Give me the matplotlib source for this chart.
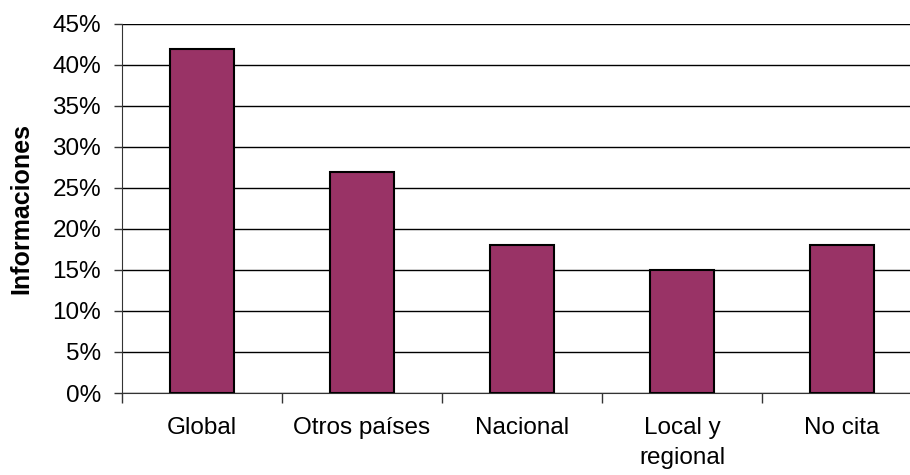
import matplotlib
matplotlib.use("Agg")
import matplotlib.pyplot as plt
from matplotlib.ticker import FuncFormatter, FixedLocator, MultipleLocator

plt.rcParams['font.family'] = ['Liberation Sans', 'DejaVu Sans']

# data
categories = ['Global', 'Otros países', 'Nacional', 'Local y\nregional', 'No cita']
values = [42, 27, 18, 15, 18]

fig = plt.figure(figsize=(9.1, 4.75), dpi=100)
# plot area runs past the right edge of the picture, as in the reference
ax = fig.add_axes([122 / 910, 1 - 393 / 475, 800 / 910, 369 / 475])

x = list(range(len(categories)))
ax.bar(x, values, width=0.4, color='#993366', edgecolor='black', linewidth=1.5, zorder=3)

ax.set_xlim(-0.5, len(categories) - 0.5)
ax.set_ylim(0, 45)
ax.yaxis.set_major_locator(MultipleLocator(5))
ax.yaxis.set_major_formatter(FuncFormatter(lambda v, p: f'{int(v)}%'))
ax.grid(axis='y', color='black', linewidth=1, zorder=0)
ax.axhline(45, color='#888888', linewidth=1.5, zorder=1)

# category labels in the middle, ticks on the boundaries
ax.set_xticks(x)
ax.set_xticklabels(categories, fontsize=17.5, linespacing=1.5)
ax.tick_params(axis='x', which='major', length=0, pad=17)
ax.xaxis.set_minor_locator(FixedLocator([i - 0.5 for i in range(len(categories) + 1)]))
ax.tick_params(axis='x', which='minor', length=7, width=1, color='#333333')
ax.tick_params(axis='y', length=6, width=1, labelsize=17.5, pad=9, color='#333333')

for s in ['top', 'right']:
    ax.spines[s].set_visible(False)
ax.spines['left'].set_color('#333333')
ax.spines['bottom'].set_color('#333333')

ax.set_ylabel('Informaciones', fontsize=18, fontweight='bold', labelpad=14)

fig.savefig('out.png', dpi=100)
